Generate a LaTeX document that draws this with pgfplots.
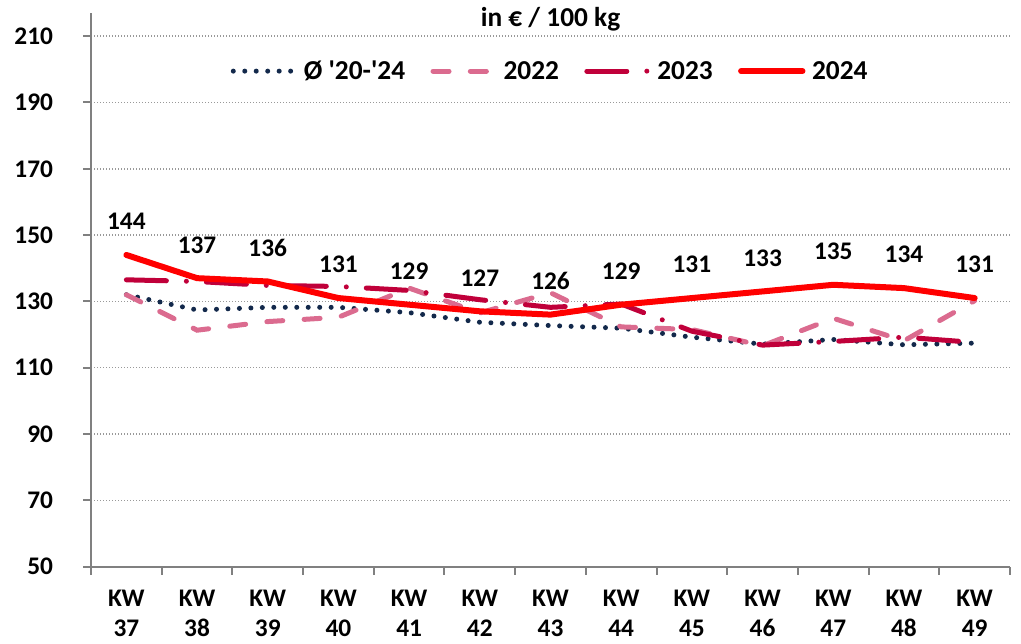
\documentclass[border=0pt]{standalone}
\usepackage{pgfplots}
\pgfplotsset{compat=1.18}
\usepackage{fontspec}
\setmainfont{Carlito}
\definecolor{cavg}{HTML}{13294B}
\definecolor{c22}{HTML}{DB6B8F}
\definecolor{c23}{HTML}{C0003A}
\definecolor{c24}{HTML}{FF0000}
\newcommand{\lbl}{\bfseries\fontsize{19}{22.5}\selectfont}
\newcommand{\leg}{\bfseries\fontsize{20.5}{24}\selectfont}
\begin{document}
\begin{tikzpicture}
\begin{axis}[
  name=ax,
  scale only axis,
  width=689pt, height=415pt,
  xmin=-0.5, xmax=12.5,
  ymin=50, ymax=217,
  clip=false,
  axis x line*=bottom, axis y line*=left,
  axis line style={gray, line width=1.5pt, -},
  tick align=outside,
  major tick length=6pt,
  tick style={gray, line width=1.5pt},
  xtick={-0.5,0.5,...,12.5},
  xticklabel=\empty,
  extra x ticks={0,1,...,12},
  extra x tick labels={{KW\\37},{KW\\38},{KW\\39},{KW\\40},{KW\\41},{KW\\42},{KW\\43},{KW\\44},{KW\\45},{KW\\46},{KW\\47},{KW\\48},{KW\\49}},
  extra x tick style={major tick length=0pt, xmajorgrids=false},
  x tick label style={align=center, font=\lbl, yshift=-14pt},
  ytick={50,70,...,210},
  y tick label style={font=\lbl, xshift=-19pt},
  /pgf/number format/assume math mode=true,
  ymajorgrids,
  grid style={gray!80, line width=1.1pt, dash pattern=on 0.75pt off 1.5pt},
  legend columns=4,
  legend style={at={(0.5,0.895)}, anchor=center, draw=none, fill=none,
    font=\leg,
    /tikz/every odd column/.append style={column sep=3pt},
    /tikz/every even column/.append style={column sep=17pt}},
  legend image code/.code={\draw[#1] (0pt,0pt) -- (46pt,0pt);},
]
\addplot[cavg, line width=3.75pt, line cap=round, dash pattern=on 0pt off 8.6pt] coordinates {
  (0,132) (1,127.4) (2,128.2) (3,128.2) (4,126.6) (5,123.7) (6,122.7) (7,121.9) (8,119.2) (9,117.1) (10,118.5) (11,116.9) (12,117.4)
};
\addlegendentry{Ø \textquotesingle20-\textquotesingle24}
\addplot[c22, line width=3.75pt, line cap=round, dash pattern=on 12pt off 16pt] coordinates {
  (0,132) (1,121.3) (2,123.9) (3,125.2) (4,134) (5,126.5) (6,132.6) (7,122.3) (8,121.5) (9,116.6) (10,124.9) (11,118.1) (12,130.2)
};
\addlegendentry{2022}
\addplot[c23, line width=3.75pt, line cap=round, dash pattern=on 30pt off 15pt on 0pt off 15pt] coordinates {
  (0,136.5) (1,136) (2,134.8) (3,134.5) (4,133.3) (5,130.5) (6,128.2) (7,129.2) (8,121) (9,116.8) (10,117.9) (11,119.2) (12,117.6)
};
\addlegendentry{2023}
\addplot[c24, line width=4.5pt, line cap=round,
  nodes near coords={\pgfmathprintnumber[fixed,precision=0]{\pgfplotspointmeta}},
  every node near coord/.append style={font=\lbl, text=black, anchor=center, yshift=25pt}] coordinates {
  (0,144) (1,137) (2,136) (3,131) (4,129) (5,127) (6,126) (7,129) (8,131) (9,133) (10,135) (11,134) (12,131)
};
\addlegendentry{2024}
\node[font=\leg] at (rel axis cs:0.5,1) [yshift=-5pt] {in € / 100 kg};
\end{axis}
\pgfresetboundingbox
\useasboundingbox ([shift={(-68.25pt,-57.75pt)}]ax.south west) rectangle ([shift={(8.25pt,9.75pt)}]ax.north east);
\end{tikzpicture}
\end{document}
